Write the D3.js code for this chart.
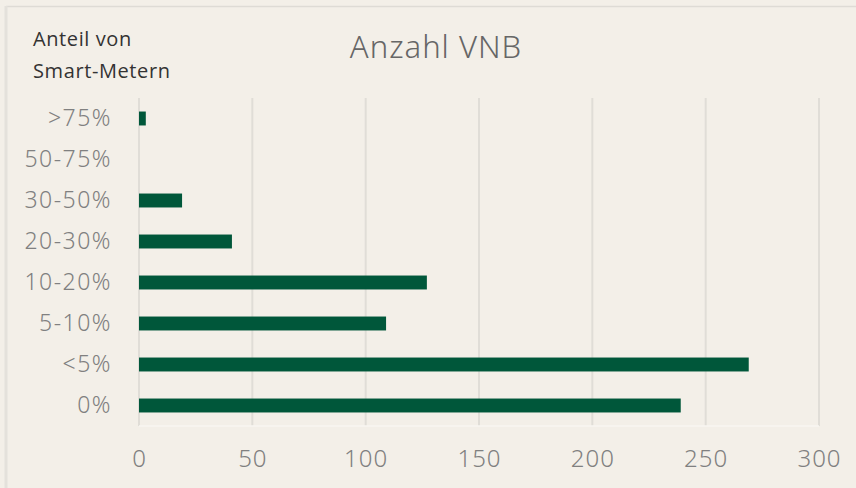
<!DOCTYPE html>
<html>
<head>
<meta charset="utf-8">
<script src="https://cdn.jsdelivr.net/npm/d3@7"></script>
<style>
  body { margin: 0; background: #f3efe8; }
  svg { display: block; }
</style>
</head>
<body>
<div id="chart"></div>
<script>
// Data
var categories = [">75%", "50-75%", "30-50%", "20-30%", "10-20%", "5-10%", "<5%", "0%"];
var values = [3, 0, 19, 41, 127, 109, 269, 239];
var xTicks = [0, 50, 100, 150, 200, 250, 300];

var W = 856, H = 488;
var margin = {top: 98, right: 37, bottom: 62, left: 139};
var width = W - margin.left - margin.right,
    height = H - margin.top - margin.bottom;

var svg = d3.select("#chart").append("svg")
    .attr("width", W)
    .attr("height", H);

// outer frame lines
svg.append("rect").attr("x", 0).attr("y", 0).attr("width", W).attr("height", H).attr("fill", "#f3efe8");
svg.append("line").attr("x1", 6).attr("x2", W).attr("y1", 6.5).attr("y2", 6.5)
    .attr("stroke", "#dedbd5").attr("stroke-width", 1.5);
svg.append("line").attr("x1", 6).attr("x2", 6).attr("y1", 6).attr("y2", H)
    .attr("stroke", "#e4e1db").attr("stroke-width", 3);

var g = svg.append("g")
    .attr("transform", "translate(" + margin.left + "," + margin.top + ")");

var x = d3.scaleLinear().domain([0, 300]).range([0, width]);
var y = d3.scaleBand().domain(categories).range([0, height]).paddingInner(0.66).paddingOuter(0.33);

// gridlines
g.selectAll(".grid")
    .data(xTicks)
    .enter().append("line")
    .attr("x1", function(d) { return x(d); })
    .attr("x2", function(d) { return x(d); })
    .attr("y1", 0)
    .attr("y2", height)
    .attr("stroke", "#e0ddd7")
    .attr("stroke-width", 2);

// bottom edge of plot
g.append("line").attr("x1", 0).attr("x2", width).attr("y1", height).attr("y2", height)
    .attr("stroke", "#f8f6f2").attr("stroke-width", 1.5);

// bars
g.selectAll(".bar")
    .data(values)
    .enter().append("rect")
    .attr("x", x(0))
    .attr("y", function(d, i) { return y(categories[i]); })
    .attr("width", function(d) { return x(d) - x(0); })
    .attr("height", y.bandwidth())
    .attr("fill", "#00573a");

// x axis
var xAxis = g.append("g")
    .attr("transform", "translate(0," + height + ")")
    .call(d3.axisBottom(x).tickValues(xTicks).tickSize(0).tickPadding(24));
xAxis.select(".domain").remove();
xAxis.selectAll("text")
    .attr("fill", "#808080")
    .style("font-family", "'Noto Sans', sans-serif")
    .style("font-weight", "300")
    .style("font-size", "24px")
    .style("letter-spacing", "1px");

// y axis
var yAxis = g.append("g")
    .call(d3.axisLeft(y).tickSize(0).tickPadding(27));
yAxis.select(".domain").remove();
yAxis.selectAll("text")
    .attr("fill", "#808080")
    .style("font-family", "'Noto Sans', sans-serif")
    .style("font-weight", "300")
    .style("font-size", "23px")
    .style("letter-spacing", "1.5px");

// title
svg.append("text")
    .attr("x", 436)
    .attr("y", 58)
    .attr("text-anchor", "middle")
    .attr("fill", "#666")
    .style("font-family", "'Noto Sans', sans-serif")
    .style("font-weight", "300")
    .style("font-size", "31px")
    .style("letter-spacing", "1px")
    .text("Anzahl VNB");

// axis caption
svg.append("text")
    .attr("x", 33)
    .attr("y", 46)
    .attr("fill", "#333")
    .style("font-family", "'Open Sans', sans-serif")
    .style("font-size", "20px")
    .style("letter-spacing", "0.6px")
    .text("Anteil von");
svg.append("text")
    .attr("x", 33)
    .attr("y", 78)
    .attr("fill", "#333")
    .style("font-family", "'Open Sans', sans-serif")
    .style("font-size", "20px")
    .style("letter-spacing", "0.6px")
    .text("Smart-Metern");
</script>
</body>
</html>
